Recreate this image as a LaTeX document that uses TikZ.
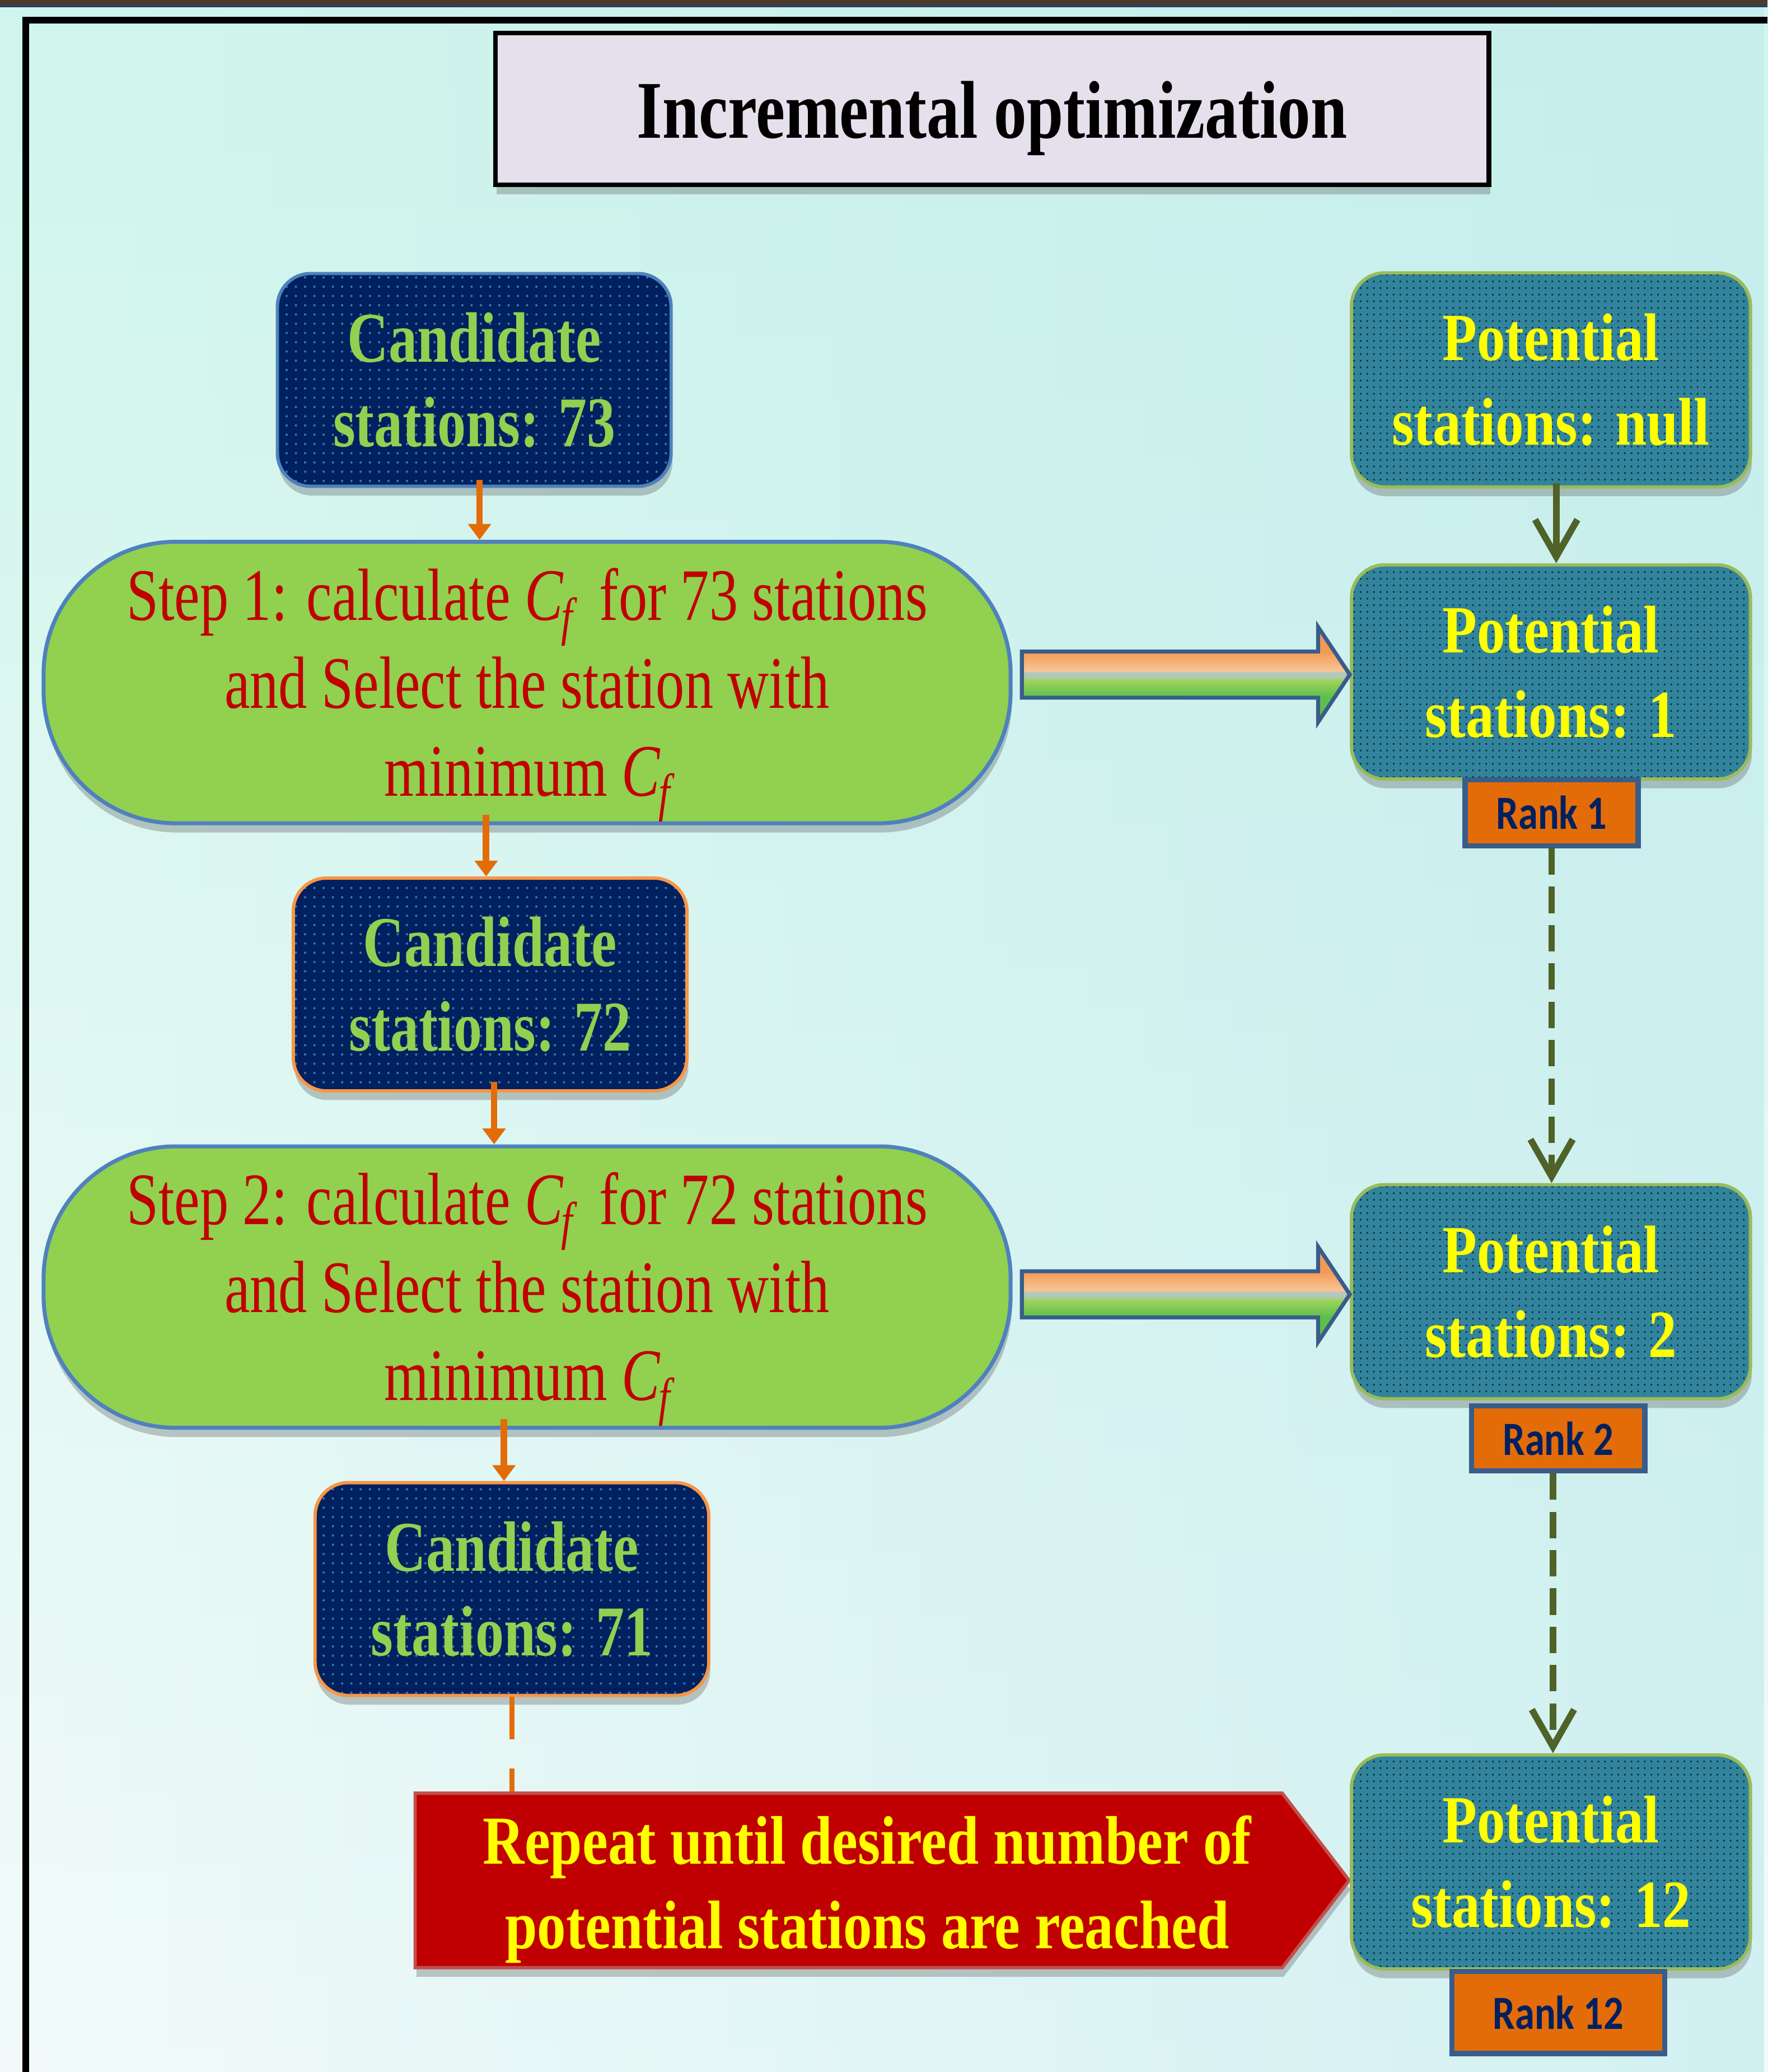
\documentclass[tikz,border=0pt]{standalone}
\usepackage{fontspec}
\setmainfont{Liberation Serif}
\newfontfamily\tnr[FakeStretch=0.8]{Liberation Serif}
\newfontfamily\tnrs[FakeStretch=0.775]{Liberation Serif}
\newfontfamily\tnrr[FakeStretch=0.84]{Liberation Serif}
\newfontfamily\tnrp[FakeStretch=0.84]{Liberation Serif}
\newfontfamily\calib[FakeStretch=0.83]{Carlito}
\usetikzlibrary{shapes.symbols,arrows.meta,shadows,patterns.meta,calc,fadings}
\definecolor{navy}{HTML}{002060}
\definecolor{navydot}{HTML}{2E7DA0}
\definecolor{cgreen}{HTML}{92D050}
\definecolor{bblue}{HTML}{4F81BD}
\definecolor{borange}{HTML}{F79646}
\definecolor{tealf}{HTML}{31849B}
\definecolor{tealdot}{HTML}{0B2B45}
\definecolor{olivebd}{HTML}{9BBB59}
\definecolor{stepred}{HTML}{C00000}
\definecolor{repbd}{HTML}{C0504D}
\definecolor{rankor}{HTML}{E36C09}
\definecolor{rankbd}{HTML}{385D8A}
\definecolor{olivear}{HTML}{4F6228}
\definecolor{titlef}{HTML}{E5E0EC}
\definecolor{ytext}{HTML}{FFFF00}
\definecolor{bgtop}{HTML}{D0F6EC}
\definecolor{bgbot}{HTML}{F2FBFA}
\definecolor{bgcyan}{HTML}{BDE9EC}
\definecolor{brownbar}{HTML}{4A3A2E}
\definecolor{bluebar}{HTML}{1F3F78}
\definecolor{forange}{HTML}{F39A55}
\definecolor{fpeach}{HTML}{FAC496}
\definecolor{fgray}{HTML}{B2C8BE}
\definecolor{fgone}{HTML}{9ED45C}
\definecolor{fgtwo}{HTML}{5CBF4C}
\pgfdeclareverticalshading{fatshade}{100bp}{color(0bp)=(fgtwo); color(30bp)=(fgtwo); color(38bp)=(fgtwo); color(47bp)=(fgone); color(49bp)=(fgray); color(51bp)=(fgray); color(52bp)=(fpeach); color(62bp)=(forange); color(100bp)=(forange)}
\newcommand\Cf{{\itshape C\kern-1pt\raisebox{-11pt}{\fontsize{40}{40}\selectfont f}}}
\begin{document}
\begin{tikzpicture}[x=1pt,y=-1pt,
  shad/.style={drop shadow={shadow xshift=1pt,shadow yshift=-7pt,opacity=.3,fill=black!70}},
  candbox/.style={shad,rounded corners=25pt,minimum width=298,minimum height=161,inner sep=0pt,line width=2.5pt,
    preaction={fill=navy},pattern={Dots[distance=7pt,radius=0.9pt]},pattern color=navydot,
    text=cgreen,align=center,font=\tnr\bfseries\fontsize{54}{64}\selectfont},
  potbox/.style={shad,rounded corners=25pt,minimum width=302,minimum height=162,inner sep=0pt,line width=2.5pt,draw=olivebd,
    preaction={fill=tealf},pattern={Dots[distance=5pt,radius=0.8pt]},pattern color=tealdot,
    text=ytext,align=center,font=\tnrp\bfseries\fontsize{51}{64}\selectfont},
  stepshape/.style={shad,rounded corners=100pt,minimum width=732,minimum height=213,inner sep=0pt,line width=3pt,
    draw=bblue,fill=cgreen,text=stepred,align=center,font=\tnrs\fontsize{56}{66.5}\selectfont},
  rankbox/.style={inner sep=0pt,line width=4pt,draw=rankbd,fill=rankor,text=navy,
    font=\calib\bfseries\fontsize{36}{40}\selectfont},
  repshape/.style={shad,signal,signal to=east,signal pointer angle=105,minimum width=707,minimum height=132,inner sep=0pt,
    line width=2.5pt,draw=repbd,fill=stepred,text=ytext,align=center,font=\tnrr\bfseries\fontsize{52}{64}\selectfont},
  titlebox/.style={shad,minimum width=752,minimum height=115,inner sep=0pt,line width=3.5pt,draw=black,fill=titlef,
    font=\tnr\bfseries\fontsize{62}{70}\selectfont},
  oarrow/.style={draw=rankor,line width=5pt,-{Triangle[length=12pt,width=17pt]}},
  garrow/.style={draw=olivear,line width=5pt,-{Straight Barb[length=28pt,width=32pt]}},
  gdash/.style={garrow,dash pattern=on 20pt off 9pt},
  fatarrow/.style={shading=fatshade,draw=rankbd,line width=3pt,line join=miter}
]
\useasboundingbox (0,0) rectangle (1338,1568);
% background
\shade[top color=bgtop,bottom color=bgbot] (0,0) rectangle (1338,1568);
\fill[bgcyan,path fading=west,opacity=.6] (0,0) rectangle (1338,1568);
\fill[brownbar] (0,0) rectangle (1338,4.3);
\fill[bluebar] (0,4.3) rectangle (1338,5.5);
\fill[black] (17,12.7) rectangle (1338,17.8);
\fill[black] (17,12.7) rectangle (22,1568);

% title
\node[titlebox] (title) at (751,82.5) {\raisebox{-7pt}[\height][\depth]{Incremental optimization}};

% left column
\node[candbox,draw=bblue] (c73) at (359,287.5) {Candidate\\stations: 73};
\node[stepshape] (s1) at (399,516.5) {\rule{0pt}{58pt}Step 1: calculate \Cf\ \,for 73 stations\\and Select the station with\\minimum \Cf};
\node[candbox,draw=borange] (c72) at (371,745) {Candidate\\stations: 72};
\node[stepshape] (s2) at (399,974) {\rule{0pt}{58pt}Step 2: calculate \Cf\ \,for 72 stations\\and Select the station with\\minimum \Cf};
\node[candbox,draw=borange] (c71) at (387.5,1202.5) {Candidate\\stations: 71};
\node[repshape,anchor=west] (rep) at (313,1423) {\rule{0pt}{50pt}\hspace*{28pt}Repeat until desired number of\\\hspace*{28pt}potential stations are reached};

% right column
\node[potbox] (pnull) at (1174,287.5) {Potential\\stations: null};
\node[potbox] (p1) at (1174,508.5) {Potential\\stations: 1};
\node[rankbox,minimum width=131,minimum height=50] (r1) at (1174.5,615) {Rank 1};
\node[potbox] (p2) at (1174,977.5) {Potential\\stations: 2};
\node[rankbox,minimum width=131,minimum height=49] (r2) at (1179.5,1088.5) {Rank 2};
\node[potbox] (p12) at (1174,1409) {Potential\\stations: 12};
\node[rankbox,minimum width=161,minimum height=62] (r12) at (1179.5,1523) {Rank 12};

% orange connectors
\draw[oarrow] ($(c73.south)+(4,-6)$) -- ($(c73.south |- s1.north)+(4,0)$);
\draw[oarrow] ($(c72.north |- s1.south)+(-3,-8)$) -- ($(c72.north)+(-3,0)$);
\draw[oarrow] ($(c72.south)+(3,-8)$) -- ($(c72.south |- s2.north)+(3,0)$);
\draw[oarrow] ($(c71.north |- s2.south)+(-6,-8)$) -- ($(c71.north)+(-6,0)$);
\draw[draw=rankor,line width=4pt,dash pattern=on 32pt off 22pt] (c71.south) -- (c71.south |- rep.north);

% olive connectors
\draw[garrow] ($(pnull.south)+(4,-4)$) -- ($(p1.north)+(4,0)$);
\draw[gdash] (r1.south) -- (r1.south |- p2.north);
\draw[gdash] ($(r2.south)+(-4,0)$) -- ($(r2.south |- p12.north)+(-4,0)$);

% fat arrows
\shade[fatarrow] let \p1=($(s1.east)+(7,0)$), \p2=($(p1.west)+(0,2)$) in
  (\x1,\y2+17.5pt) -- (\x2-24pt,\y2+17.5pt) -- (\x2-24pt,\y2+36pt) -- (\x2,\y2) --
  (\x2-24pt,\y2-36pt) -- (\x2-24pt,\y2-17.5pt) -- (\x1,\y2-17.5pt) -- cycle;
\shade[fatarrow] let \p1=($(s2.east)+(7,0)$), \p2=($(p2.west)+(0,2)$) in
  (\x1,\y2+17.5pt) -- (\x2-24pt,\y2+17.5pt) -- (\x2-24pt,\y2+36pt) -- (\x2,\y2) --
  (\x2-24pt,\y2-36pt) -- (\x2-24pt,\y2-17.5pt) -- (\x1,\y2-17.5pt) -- cycle;
\end{tikzpicture}
\end{document}
